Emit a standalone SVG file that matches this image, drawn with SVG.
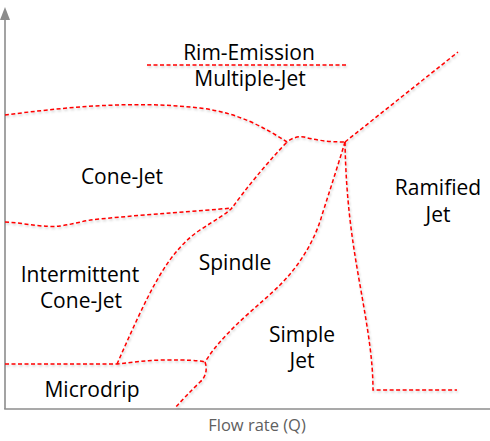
<svg xmlns="http://www.w3.org/2000/svg" width="490" height="441" viewBox="0 0 490 441">
<defs>
<filter id="sh" x="-10%" y="-10%" width="120%" height="120%">
<feDropShadow dx="1" dy="1.5" stdDeviation="1" flood-color="#000" flood-opacity="0.22"/>
</filter>
</defs>
<style>
.ax{stroke:#8c8c8c;stroke-width:1.6;fill:none}
.b{stroke:#f00;stroke-width:1.5;fill:none;stroke-dasharray:4 2.5}
.t{font-family:"Open Sans","Noto Sans",sans-serif;font-size:21px;fill:#000;text-anchor:middle}
.xl{font-family:"Open Sans","Noto Sans",sans-serif;font-size:16.5px;fill:#606060;text-anchor:middle}
</style>
<rect width="490" height="441" fill="#fff"/>
<g id="axes">
<line class="ax" x1="5" y1="18" x2="5" y2="409"/>
<line class="ax" x1="4.2" y1="409" x2="490" y2="409"/>
<polygon points="5,7 0,20 10,20" fill="#8c8c8c"/>
<text class="xl" x="257" y="431">Flow rate (Q)</text>
</g>
<g id="connectors" filter="url(#sh)">
<path class="b" d="M147,65 H347"/>
<path class="b" d="M5,115 C60,108 130,100 200,108 C240,113 265,128 287,142 C292,138 298,136 304,137 C315,140 328,142 345,142"/>
<path class="b" d="M345,142 L458,52"/>
<path class="b" d="M345,142 C346,200 352,240 360,285 C368,330 373,360 373,390 H457"/>
<path class="b" d="M345,142 C338,165 330,190 322,215 C315,240 300,265 280,285 C260,305 225,330 205,362"/>
<path class="b" d="M205,362 C208,370 205,378 200,382 C190,392 182,400 175,408"/>
<path class="b" d="M5,364 H117 C135,362 150,360 167,360 C185,360 198,360 205,362"/>
<path class="b" d="M117,364 C130,335 145,300 160,275 C172,255 185,240 200,230 C215,220 225,215 232,208 C245,190 265,165 287,142"/>
<path class="b" d="M5,222 C25,223 45,228 60,226 C75,224 85,220 100,219 C150,214 200,211 232,208"/>
</g>
<g id="rim-emission"><text class="t" x="249" y="60">Rim-Emission</text></g>
<g id="multiple-jet"><text class="t" x="250" y="86">Multiple-Jet</text></g>
<g id="cone-jet"><text class="t" x="122" y="184">Cone-Jet</text></g>
<g id="ramified-jet"><text class="t" x="438" y="195">Ramified</text><text class="t" x="438" y="222">Jet</text></g>
<g id="spindle"><text class="t" x="235" y="270">Spindle</text></g>
<g id="intermittent-cone-jet"><text class="t" x="80" y="282">Intermittent</text><text class="t" x="81" y="308">Cone-Jet</text></g>
<g id="simple-jet"><text class="t" x="302" y="342">Simple</text><text class="t" x="302" y="368">Jet</text></g>
<g id="microdrip"><text class="t" x="92" y="397">Microdrip</text></g>
</svg>
